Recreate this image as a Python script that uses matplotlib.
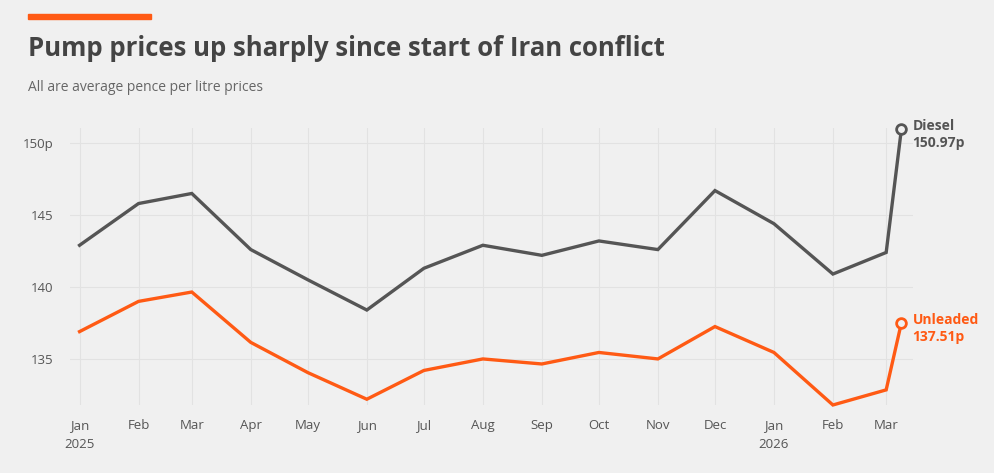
import matplotlib
matplotlib.use("Agg")
import matplotlib.pyplot as plt
import pandas as pd

# monthly averages (pence per litre), plus the latest reading
dates = ["2025-01-01", "2025-02-01", "2025-03-01", "2025-04-01", "2025-05-01",
         "2025-06-01", "2025-07-01", "2025-08-01", "2025-09-01", "2025-10-01",
         "2025-11-01", "2025-12-01", "2026-01-01", "2026-02-01", "2026-03-01",
         "2026-03-09"]
diesel = [142.9, 145.8, 146.5, 142.6, 140.5, 138.4, 141.3, 142.9, 142.2, 143.2,
          142.6, 146.7, 144.4, 140.9, 142.4, 150.97]
unleaded = [136.9, 139.0, 139.65, 136.15, 134.05, 132.2, 134.2, 135.0, 134.65, 135.45,
            135.0, 137.25, 135.45, 131.8, 132.85, 137.51]

tick_labels = ["Jan\n2025", "Feb", "Mar", "Apr", "May", "Jun", "Jul", "Aug", "Sep",
               "Oct", "Nov", "Dec", "Jan\n2026", "Feb", "Mar"]
y_ticks = [135, 140, 145, 150]
y_labels = ["135", "140", "145", "150p"]

bg = "#f0f0f0"
grey = "#555555"
orange = "#ff5a14"
font = "Open Sans"

x = pd.to_datetime(dates)

fig = plt.figure(figsize=(9.95, 4.73), dpi=100, facecolor=bg)
ax = fig.add_axes([0.0704, 0.1438, 0.847, 0.5856], facecolor=bg)

ax.plot(x, diesel, color=grey, lw=2.4, solid_joinstyle="miter", clip_on=False, zorder=3)
ax.plot(x, unleaded, color=orange, lw=2.4, solid_joinstyle="miter", clip_on=False, zorder=3)

# hollow end markers
ax.plot(x[-1], diesel[-1], "o", ms=7, mfc=bg, mec=grey, mew=2, clip_on=False, zorder=4)
ax.plot(x[-1], unleaded[-1], "o", ms=7, mfc=bg, mec=orange, mew=2, clip_on=False, zorder=4)

ax.annotate(f"Diesel\n{diesel[-1]:.2f}p", (x[-1], diesel[-1]), xytext=(8, 7),
            textcoords="offset points", ha="left", va="top", color=grey,
            fontsize=10, fontweight="bold", family=font, linespacing=1.25,
            annotation_clip=False)
ax.annotate(f"Unleaded\n{unleaded[-1]:.2f}p", (x[-1], unleaded[-1]), xytext=(8, 7),
            textcoords="offset points", ha="left", va="top", color=orange,
            fontsize=10, fontweight="bold", family=font, linespacing=1.25,
            annotation_clip=False)

ax.set_xlim(pd.Timestamp("2024-12-27"), pd.Timestamp("2026-03-15"))
ax.set_ylim(131.8, 151.05)

ax.set_xticks(x[:-1])
ax.set_xticklabels(tick_labels, family=font, fontsize=9.5, color=grey, linespacing=1.6)
ax.set_yticks(y_ticks)
ax.set_yticklabels(y_labels, family=font, fontsize=9.5, color=grey)
ax.tick_params(length=0, pad=10)
ax.tick_params(axis="y", pad=12)

ax.grid(True, color="#e2e2e2", lw=0.8, zorder=0)
for s in ax.spines.values():
    s.set_visible(False)

# header
fig.patches.append(plt.Rectangle((28 / 995, 1 - 19 / 473), 123 / 995, 5 / 473,
                                 transform=fig.transFigure, color=orange))
fig.text(28 / 995, 1 - 56 / 473, "Pump prices up sharply since start of Iran conflict",
         family=font, fontweight="bold", fontsize=18.5, color="#444444", va="baseline")
fig.text(28 / 995, 1 - 91 / 473, "All are average pence per litre prices",
         family=font, fontsize=10, color="#666666", va="baseline")

fig.savefig("out.png", dpi=100, facecolor=bg)
